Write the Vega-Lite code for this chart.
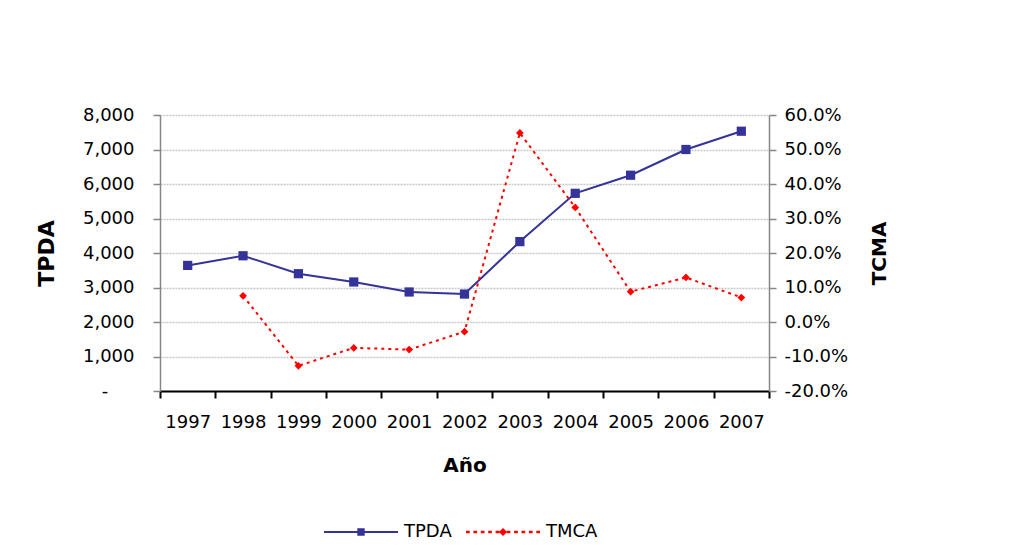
{
  "$schema": "https://vega.github.io/schema/vega-lite/v6.json",
  "width": 609,
  "height": 276,
  "autosize": {"type": "none"},
  "padding": {"left": 160, "top": 115, "right": 262, "bottom": 161},
  "background": "white",
  "config": {
    "font": "DejaVu Sans",
    "view": {"stroke": null},
    "axis": {"labelColor": "black", "titleColor": "black", "labelFont": "DejaVu Sans", "titleFont": "DejaVu Sans"}
  },
  "data": {
    "values": [
      {"year": 1997, "tpda": 3640, "tmca": null},
      {"year": 1998, "tpda": 3920, "tmca": 0.076},
      {"year": 1999, "tpda": 3400, "tmca": -0.127},
      {"year": 2000, "tpda": 3160, "tmca": -0.075},
      {"year": 2001, "tpda": 2870, "tmca": -0.080},
      {"year": 2002, "tpda": 2810, "tmca": -0.028},
      {"year": 2003, "tpda": 4330, "tmca": 0.548},
      {"year": 2004, "tpda": 5730, "tmca": 0.332},
      {"year": 2005, "tpda": 6255, "tmca": 0.088},
      {"year": 2006, "tpda": 7000, "tmca": 0.129},
      {"year": 2007, "tpda": 7530, "tmca": 0.071}
    ]
  },
  "layer": [
    {
      "mark": {"type": "line", "strokeWidth": 2, "point": {"shape": "square", "size": 85, "filled": true, "opacity": 1}},
      "encoding": {
        "x": {
          "field": "year", "type": "ordinal",
          "scale": {"type": "band", "paddingInner": 0, "paddingOuter": 0},
          "axis": {
            "title": "Año", "labelAngle": 0, "tickBand": "extent", "grid": false,
            "domainColor": "black", "domainWidth": 2, "tickColor": "black", "tickWidth": 2, "tickSize": 7,
            "labelPadding": 15, "labelFontSize": 18, "titleFontSize": 20, "titleFontWeight": "bold", "titlePadding": 24
          }
        },
        "y": {
          "field": "tpda", "type": "quantitative",
          "scale": {"domain": [0, 8000], "nice": false},
          "axis": {
            "title": "TPDA", "titleFontSize": 22, "titleFontWeight": "bold", "titlePadding": 24,
            "values": [0, 1000, 2000, 3000, 4000, 5000, 6000, 7000, 8000],
            "format": ",.0f",
            "labelExpr": "datum.value === 0 ? '-\u2800\u2800' : datum.label",
            "labelFontSize": 18, "labelPadding": 19,
            "tickSize": 7, "tickColor": "#868686", "tickWidth": 1.5,
            "domainColor": "#868686", "domainWidth": 1.5,
            "grid": true, "gridColor": "#c8c8c8", "gridDash": [2, 1], "gridWidth": 1.5
          }
        },
        "color": {
          "datum": "TPDA", "type": "nominal",
          "scale": {"domain": ["TPDA", "TMCA"], "range": ["#333399", "#ff0000"]},
          "legend": {
            "title": null, "orient": "none", "legendX": 164, "legendY": 380, "direction": "horizontal",
            "symbolSize": 5476, "labelFontSize": 18, "labelColor": "black", "labelOffset": 6,
            "columnPadding": 14, "padding": 0,
            "encode": {
              "symbols": {
                "update": {
                  "shape": {"signal": "datum.value === 'TPDA' ? 'M-1,-0.03L1,-0.03L1,0.03L-1,0.03Z M-0.1,-0.1L0.1,-0.1L0.1,0.1L-0.1,0.1Z' : 'M-1,-0.035H-0.9V0.035H-1Z M-0.8,-0.035H-0.7V0.035H-0.8Z M-0.6,-0.035H-0.5V0.035H-0.6Z M-0.4,-0.035H-0.3V0.035H-0.4Z M-0.2,-0.035H-0.1V0.035H-0.2Z M0.1,-0.035H0.2V0.035H0.1Z M0.3,-0.035H0.4V0.035H0.3Z M0.5,-0.035H0.6V0.035H0.5Z M0.7,-0.035H0.8V0.035H0.7Z M0.9,-0.035H1V0.035H0.9Z M0,-0.11L0.11,0L0,0.11L-0.11,0Z'"},
                  "fill": {"signal": "datum.value === 'TPDA' ? '#333399' : '#ff0000'"},
                  "stroke": {"value": "transparent"},
                  "strokeWidth": {"value": 0},
                  "size": {"value": 5476},
                  "opacity": {"value": 1},
                  "fillOpacity": {"value": 1}
                }
              }
            }
          }
        }
      }
    },
    {
      "mark": {"type": "line", "strokeWidth": 2, "strokeDash": [3, 4], "point": {"shape": "diamond", "size": 60, "filled": true, "opacity": 1}},
      "encoding": {
        "x": {"field": "year", "type": "ordinal"},
        "y": {
          "field": "tmca", "type": "quantitative",
          "scale": {"domain": [-0.2, 0.6], "nice": false},
          "axis": {
            "orient": "right", "title": "TCMA", "titleAngle": 270, "titleFontSize": 20, "titleFontWeight": "bold", "titlePadding": 42,
            "values": [-0.2, -0.1, 0, 0.1, 0.2, 0.3, 0.4, 0.5, 0.6],
            "format": ".1%",
            "labelExpr": "replace(datum.label, '\u2212', '-')",
            "labelFontSize": 18, "labelPadding": 8,
            "tickSize": 7, "tickColor": "#868686", "tickWidth": 1.5,
            "domainColor": "#868686", "domainWidth": 1.5,
            "grid": false
          }
        },
        "color": {"datum": "TMCA", "type": "nominal"}
      }
    }
  ],
  "resolve": {"scale": {"y": "independent"}}
}
